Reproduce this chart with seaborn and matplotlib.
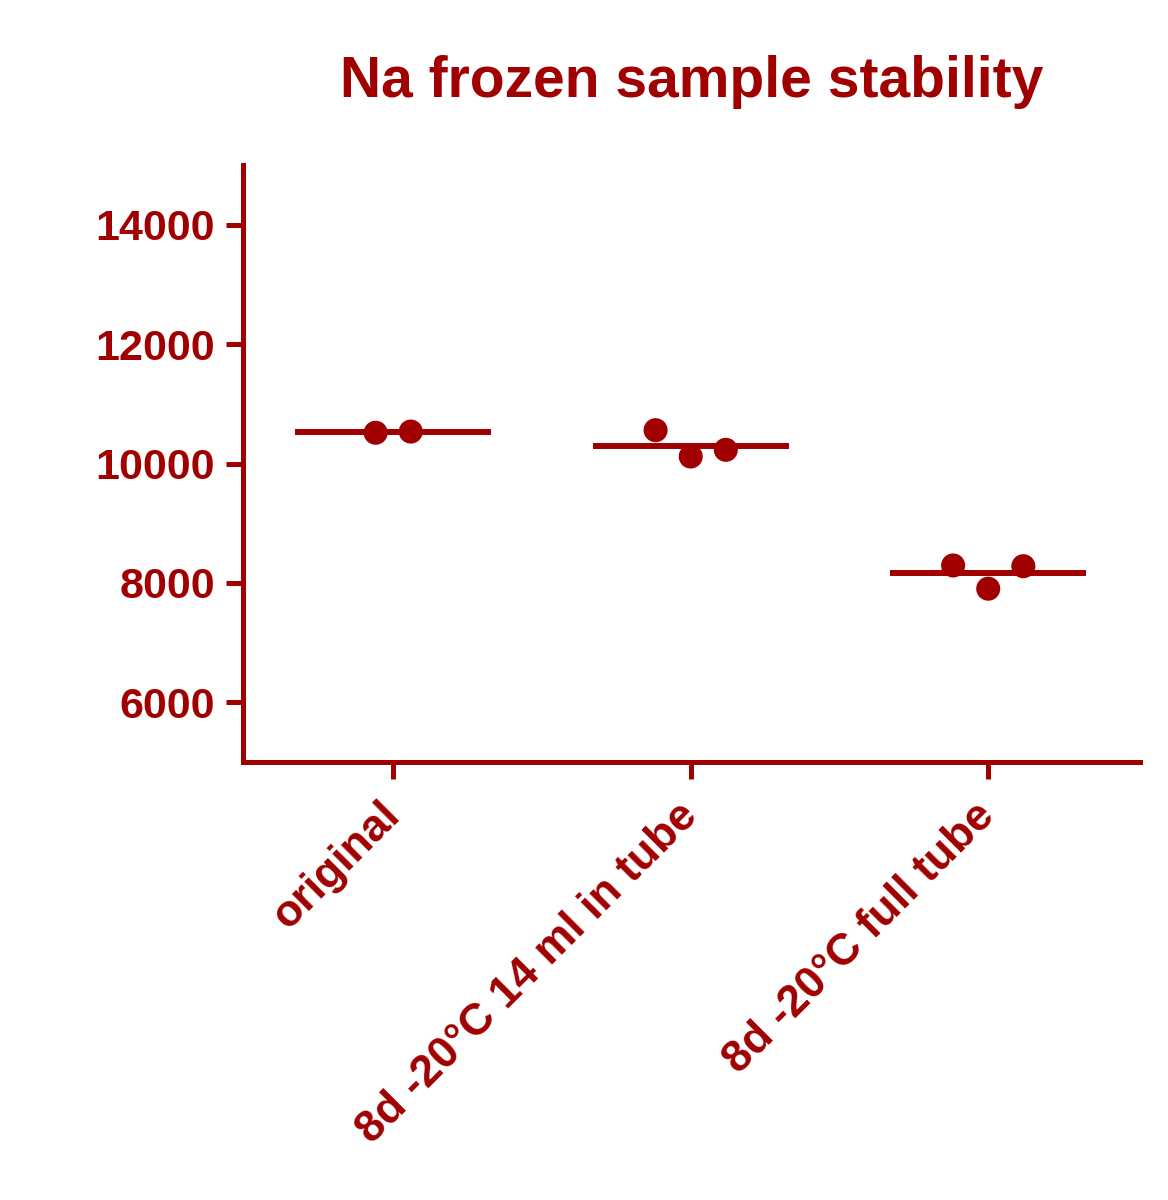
import matplotlib
matplotlib.use("Agg")
import matplotlib.pyplot as plt
import numpy as np
import pandas as pd
import seaborn as sns

# values
groups = ["original", "8d -20°C 14 ml in tube", "8d -20°C full tube"]
original = [10515, 10535]
tube_14ml = [10558, 10117, 10229]
full_tube = [8292, 7903, 8280]

RED = "#A00000"

sns.set_theme(style="ticks")
plt.rcParams["font.family"] = ["Liberation Sans", "DejaVu Sans"]
plt.rcParams["font.weight"] = "bold"

rows = []
for gi, (name, vals) in enumerate(zip(groups, [original, tube_14ml, full_tube])):
    n = len(vals)
    for k, v in enumerate(vals):
        # spread points horizontally like a column scatter
        rows.append({"group": name, "pos": gi + (k - (n - 1) / 2) * 0.118, "value": v})
df = pd.DataFrame(rows)
means = df.groupby("group", sort=False)["value"].mean()

fig = plt.figure(figsize=(11.68, 12), dpi=100)
ax = fig.add_axes([0.208, 0.365, 0.768, 0.4975])

sns.scatterplot(data=df, x="pos", y="value", color=RED, s=300,
                edgecolor="none", ax=ax, zorder=3, legend=False)
for gi, name in enumerate(groups):
    ax.hlines(means[name], gi - 0.33, gi + 0.33, color=RED, lw=4.3, zorder=2)

ax.set_xlim(-0.505, 2.51)
ax.set_ylim(5000, 15000)
ax.set_yticks([6000, 8000, 10000, 12000, 14000])
ax.set_xticks(range(len(groups)))
ax.set_xticklabels(groups, rotation=45, ha="right", va="center",
                   rotation_mode="anchor")
ax.set_xlabel("")
ax.set_ylabel("")

sns.despine(ax=ax)
for side in ["left", "bottom"]:
    ax.spines[side].set_color(RED)
    ax.spines[side].set_linewidth(3.6)
ax.tick_params(axis="both", colors=RED, width=3.6, length=12)
ax.tick_params(axis="y", labelsize=31, pad=8)
ax.tick_params(axis="x", labelsize=32, pad=22)
for lab in ax.get_xticklabels() + ax.get_yticklabels():
    lab.set_fontweight("bold")
    lab.set_color(RED)

ax.set_title("Na frozen sample stability", fontsize=41, fontweight="bold",
             color=RED, pad=49)

fig.savefig("out.png", dpi=100)
